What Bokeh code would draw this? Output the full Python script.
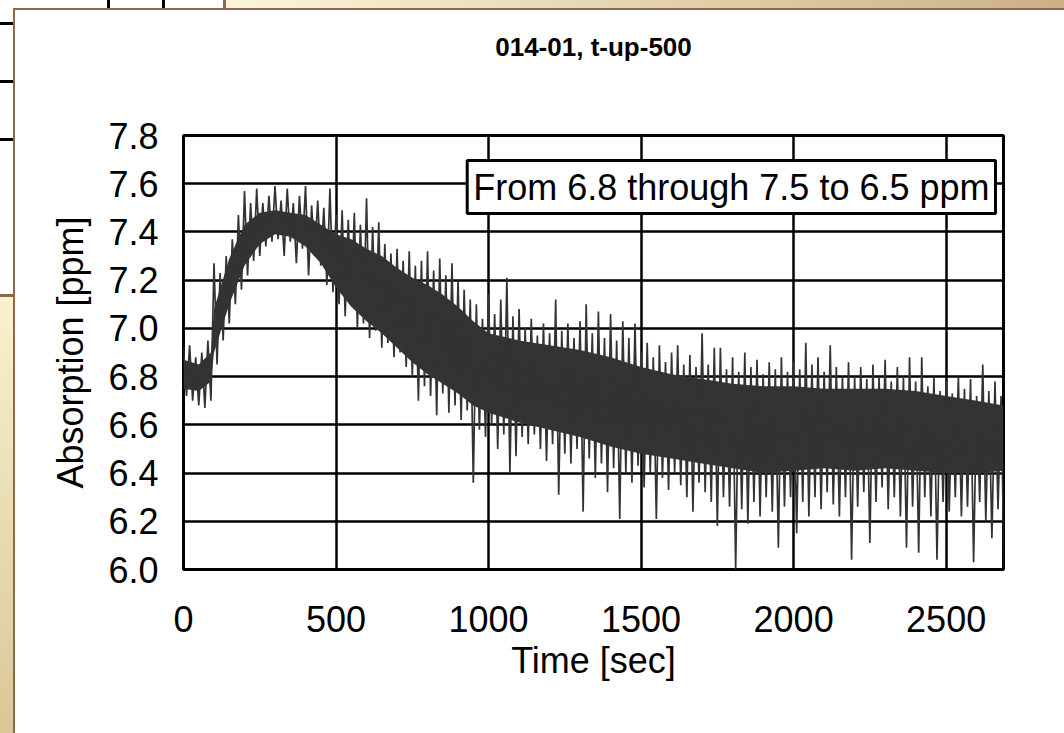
from bokeh.plotting import figure
from bokeh.models import FixedTicker, PrintfTickFormatter, Label, Range1d, LinearAxis
from bokeh.embed import file_html
from bokeh.resources import INLINE

# ---------------- data ----------------
title_text = "014-01, t-up-500"
x_label = "Time [sec]"
y_label = "Absorption [ppm]"
note_text = "From 6.8 through 7.5 to 6.5 ppm"
x_ticks = [0, 500, 1000, 1500, 2000, 2500]
y_ticks = [6.0, 6.2, 6.4, 6.6, 6.8, 7.0, 7.2, 7.4, 7.6, 7.8]
x_min, x_max = 0, 2688
y_min, y_max = 6.0, 7.8
sample_step_sec = 10

# upper excursions of the noisy trace, one every 20 s (t = 0, 20, 40, ...)
absorption_peaks = [
    6.92, 6.93, 6.88, 6.90, 6.95, 7.27, 7.23, 7.30, 7.37, 7.47,
    7.57, 7.52, 7.58, 7.52, 7.55, 7.59, 7.53, 7.58, 7.52, 7.55,
    7.59, 7.51, 7.53, 7.50, 7.58, 7.47, 7.49, 7.45, 7.48, 7.43,
    7.54, 7.42, 7.44, 7.35, 7.31, 7.33, 7.28, 7.32, 7.26, 7.28,
    7.32, 7.24, 7.29, 7.22, 7.27, 7.20, 7.16, 7.12, 7.10, 7.04,
    7.14, 7.06, 7.12, 7.21, 7.05, 7.08, 7.00, 7.04, 6.97, 7.02,
    6.98, 7.12, 6.99, 7.02, 6.96, 7.03, 7.10, 6.98, 7.07, 6.96,
    7.06, 6.95, 7.03, 6.96, 7.02, 6.90, 6.94, 6.88, 6.93, 6.86,
    6.90, 6.93, 6.85, 6.89, 6.84, 6.98, 6.85, 6.92, 6.92, 6.83,
    6.88, 6.82, 6.90, 6.84, 6.87, 6.81, 6.86, 6.83, 6.88, 6.82,
    6.86, 6.83, 6.94, 6.85, 6.88, 6.82, 6.93, 6.84, 6.80, 6.86,
    6.80, 6.84, 6.79, 6.85, 6.80, 6.87, 6.78, 6.84, 6.80, 6.88,
    6.78, 6.88, 6.76, 6.80, 6.74, 6.78, 6.73, 6.80, 6.75, 6.79,
    6.72, 6.85, 6.74, 6.78, 6.72,
]
# lower excursions, one every 20 s (t = 10, 30, 50, ...)
absorption_troughs = [
    6.72, 6.70, 6.68, 6.67, 6.70, 6.85, 6.95, 7.02, 7.10, 7.16,
    7.22, 7.28, 7.30, 7.34, 7.36, 7.37, 7.30, 7.36, 7.27, 7.33,
    7.22, 7.30, 7.26, 7.18, 7.15, 7.10, 7.05, 7.10, 7.00, 7.02,
    6.96, 6.99, 6.92, 6.94, 6.88, 6.90, 6.84, 6.80, 6.70, 6.76,
    6.72, 6.64, 6.73, 6.65, 6.68, 6.62, 6.66, 6.36, 6.58, 6.55,
    6.60, 6.50, 6.56, 6.40, 6.47, 6.55, 6.52, 6.56, 6.50, 6.45,
    6.52, 6.31, 6.48, 6.44, 6.50, 6.24, 6.46, 6.38, 6.44, 6.32,
    6.42, 6.21, 6.40, 6.36, 6.43, 6.34, 6.40, 6.21, 6.38, 6.33,
    6.40, 6.35, 6.30, 6.24, 6.36, 6.32, 6.28, 6.18, 6.30, 6.26,
    6.00, 6.25, 6.19, 6.28, 6.22, 6.30, 6.24, 6.09, 6.26, 6.30,
    6.15, 6.28, 6.22, 6.30, 6.25, 6.32, 6.27, 6.22, 6.30, 6.04,
    6.26, 6.32, 6.11, 6.28, 6.34, 6.25, 6.30, 6.22, 6.09, 6.26,
    6.07, 6.30, 6.22, 6.04, 6.28, 6.24, 6.30, 6.22, 6.26, 6.03,
    6.28, 6.20, 6.13, 6.25, 6.00,
]

# solid (dense) part of the noise band, read at coarser times
band_time = [0, 50, 90, 100, 150, 200, 250, 300, 350, 400, 450, 500, 550, 600,
             650, 700, 750, 800, 850, 900, 950, 1000, 1100, 1200, 1300, 1400,
             1500, 1600, 1700, 1800, 1900, 2000, 2100, 2200, 2300, 2400, 2500,
             2600, 2688]
band_upper = [6.87, 6.85, 6.90, 7.08, 7.29, 7.43, 7.48, 7.49, 7.48, 7.47, 7.43,
              7.39, 7.37, 7.33, 7.30, 7.25, 7.21, 7.18, 7.14, 7.09, 7.03, 6.98,
              6.95, 6.93, 6.91, 6.88, 6.84, 6.81, 6.79, 6.77, 6.76, 6.76, 6.75,
              6.75, 6.75, 6.74, 6.72, 6.70, 6.68]
band_lower = [6.75, 6.74, 6.78, 6.90, 7.10, 7.26, 7.35, 7.39, 7.38, 7.34, 7.27,
              7.17, 7.09, 7.03, 6.98, 6.92, 6.86, 6.81, 6.77, 6.73, 6.68, 6.65,
              6.61, 6.58, 6.55, 6.51, 6.48, 6.46, 6.44, 6.42, 6.40, 6.41, 6.42,
              6.41, 6.42, 6.41, 6.40, 6.40, 6.41]

absorption = [v for pair in zip(absorption_peaks, absorption_troughs) for v in pair]
time_sec = [i * sample_step_sec for i in range(len(absorption))]

FONT = "Liberation Sans"
TRACE = "#333333"
BROWN = "#8a6a4a"
PX_PER_SEC = 820.0 / (x_max - x_min)
PX_PER_PPM = 434.0 / (y_max - y_min)


def css_rect(color, x, y, w, h):
    return f"linear-gradient({color},{color}) {x}px {y}px / {w}px {h}px no-repeat"


# page around the chart panel (the reference is a screenshot of a document)
page_layers = [
    css_rect(BROWN, 13, 8, 1051, 2),          # panel top border
    css_rect(BROWN, 13, 8, 2, 725),           # panel left border
    css_rect("#000", 107, 0, 3, 8),           # table lines top-left
    css_rect("#000", 162, 0, 3, 8),
    css_rect(BROWN, 223, 0, 3, 8),
    css_rect("#000", 0, 22, 13, 3),
    css_rect("#000", 0, 80, 13, 3),
    css_rect("#000", 0, 138, 13, 3),
    css_rect(BROWN, 0, 294, 13, 3),
    "linear-gradient(to right, #fbf6d8, #ccb086) 226px 0px / 838px 8px no-repeat",
    "linear-gradient(to bottom, #f9f2cd, #dac797) 0px 297px / 13px 436px no-repeat",
    "#ffffff",
]

p = figure(
    width=1064, height=733,
    x_range=Range1d(x_min, x_max), y_range=Range1d(y_min, y_max),
    output_backend="svg", toolbar_location=None,
    min_border_left=183, min_border_right=61,
    min_border_top=135, min_border_bottom=164,
    styles={"background": ", ".join(page_layers)},
)
p.border_fill_color = None
p.background_fill_color = "white"
p.outline_line_color = "black"
p.outline_line_width = 3

# ---- series ----
p.varea(x=band_time, y1=band_lower, y2=band_upper, fill_color=TRACE, fill_alpha=1.0)
p.line(time_sec, absorption, line_color=TRACE, line_width=1.7)

# ---- axes ----
p.xaxis.ticker = FixedTicker(ticks=x_ticks)
p.yaxis.ticker = FixedTicker(ticks=y_ticks)
p.yaxis.formatter = PrintfTickFormatter(format="%.1f")
for ax in (p.xaxis[0], p.yaxis[0]):
    ax.axis_line_color = None
    ax.major_tick_line_color = None
    ax.minor_tick_line_color = None
    ax.major_label_text_font = FONT
    ax.major_label_text_font_size = "36px"
    ax.major_label_text_color = "black"
    ax.axis_label_text_font = FONT
    ax.axis_label_text_font_size = "36px"
    ax.axis_label_text_font_style = "normal"
    ax.axis_label_text_color = "black"
p.xaxis.axis_label = x_label
p.yaxis.axis_label = y_label
p.xaxis.major_label_standoff = 30
p.yaxis.major_label_standoff = 19
p.xaxis.axis_label_standoff = 5
p.yaxis.axis_label_standoff = 14

p.xgrid.ticker = FixedTicker(ticks=x_ticks)
p.ygrid.ticker = FixedTicker(ticks=y_ticks)
p.grid.grid_line_color = "black"
p.grid.grid_line_width = 2.5

# ---- title: carried by a bare axis above the plot, far from the box ----
title_axis = LinearAxis(ticker=FixedTicker(ticks=[]), axis_label=title_text,
                        axis_line_color=None, major_tick_line_color=None,
                        minor_tick_line_color=None, major_tick_out=0,
                        major_tick_in=0, major_label_standoff=0,
                        axis_label_standoff=74,
                        axis_label_text_font=FONT,
                        axis_label_text_font_size="26px",
                        axis_label_text_font_style="bold",
                        axis_label_text_color="black")
p.add_layout(title_axis, "above")

# ---- annotation box ----
p.add_layout(Label(x=x_max - 8 / PX_PER_SEC, y=y_max - 25 / PX_PER_PPM,
                   anchor="top_right", text=note_text,
                   text_font=FONT, text_font_size="36px", text_color="black",
                   background_fill_color="white", border_line_color="black",
                   border_line_width=3, padding=6))

open("out.html", "w").write(file_html(p, INLINE))
